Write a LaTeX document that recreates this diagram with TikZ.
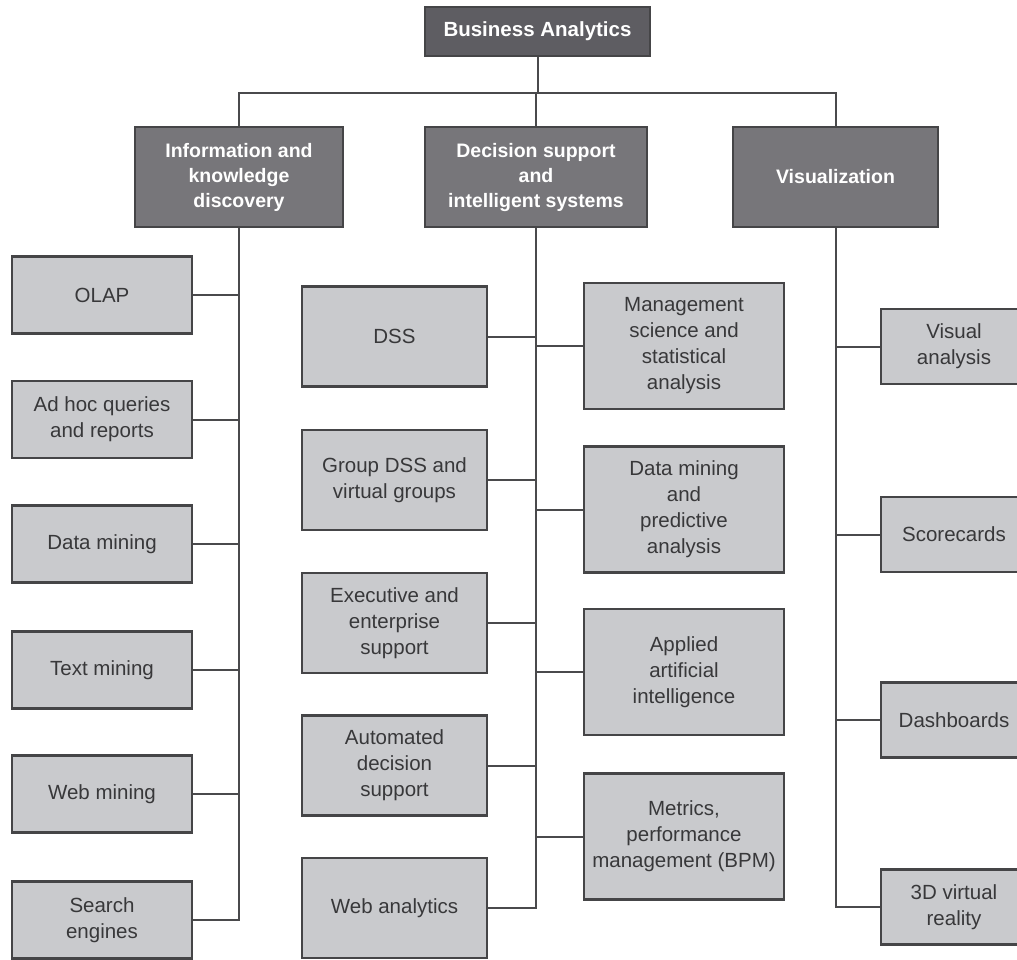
\documentclass[tikz,border=0pt]{standalone}
\usepackage{fontspec}
\setmainfont{Liberation Sans}
\definecolor{topfill}{HTML}{5E5D62}
\definecolor{headfill}{HTML}{77767A}
\definecolor{leaffill}{HTML}{C9CACD}
\definecolor{edgec}{HTML}{454547}
\definecolor{linec}{HTML}{4A4A4C}
\definecolor{textc}{HTML}{38383A}
\tikzset{
  conn/.style={draw=linec, line width=2pt},
  boxbase/.style={rectangle, draw=edgec, line width=2.4pt, inner sep=0pt, align=center},
  topbox/.style={boxbase, fill=topfill, text=white,
    font=\fontsize{20.5}{25}\selectfont\bfseries},
  headbox/.style={boxbase, fill=headfill, text=white,
    minimum height=100pt, font=\fontsize{19.5}{25}\selectfont\bfseries},
  leafbox/.style={boxbase, fill=leaffill, text=textc,
    font=\fontsize{20.5}{26}\selectfont},
  leftbox/.style={leafbox, minimum width=180pt, minimum height=77pt},
  midlbox/.style={leafbox, minimum width=185pt, minimum height=100pt},
  midrbox/.style={leafbox, minimum width=200pt, minimum height=126pt},
  rightbox/.style={leafbox, minimum width=146pt, minimum height=75pt},
}
\begin{document}
\begin{tikzpicture}[x=1pt, y=-1pt]
\useasboundingbox (0,0) rectangle (1017,959);
\clip (0,0) rectangle (1017,959);
\fill[white] (0,0) rectangle (1017,959);

% root and the three branches
\node[topbox, minimum width=225pt, minimum height=49pt] (ba) at (537.5,31.5) {Business Analytics};
\node[headbox, minimum width=208pt] (info) at (239,177) {Information and\\knowledge\\discovery};
\node[headbox, minimum width=222pt] (dec) at (536,177) {Decision support\\and\\intelligent systems};
\node[headbox, minimum width=205pt] (vis) at (835.5,177) {Visualization};

% left branch
\node[leftbox] (olap) at (102,295) {OLAP};
\node[leftbox] (adhoc) at (102,419.5) {Ad hoc queries\\and reports};
\node[leftbox] (dmin) at (102,544) {Data mining};
\node[leftbox] (tmin) at (102,670) {Text mining};
\node[leftbox] (wmin) at (102,794) {Web mining};
\node[leftbox] (seng) at (102,920) {Search\\engines};

% middle branch, left side
\node[midlbox] (dss) at (394.5,336.5) {DSS};
\node[midlbox] (gdss) at (394.5,480) {Group DSS and\\virtual groups};
\node[midlbox] (exec) at (394.5,623) {Executive and\\enterprise\\support};
\node[midlbox] (auto) at (394.5,765.5) {Automated\\decision\\support};
\node[midlbox] (weba) at (394.5,908) {Web analytics};

% middle branch, right side
\node[midrbox] (msa) at (684,346) {Management\\science and\\statistical\\analysis};
\node[midrbox] (dmp) at (684,509.5) {Data mining\\and\\predictive\\analysis};
\node[midrbox] (aai) at (684,672) {Applied\\artificial\\intelligence};
\node[midrbox] (met) at (684,836.5) {Metrics,\\performance\\management (BPM)};

% right branch
\node[rightbox] (vana) at (954,346.5) {Visual\\analysis};
\node[rightbox] (scor) at (954,534.5) {Scorecards};
\node[rightbox] (dash) at (954,720) {Dashboards};
\node[rightbox] (vr) at (954,907) {3D virtual\\reality};

% trunk connections
\coordinate (bar) at (536,93);
\draw[conn] (ba.south) -- (ba.south |- bar);
\draw[conn] (info.north) |- (bar) -| (vis.north);
\draw[conn] (bar) -- (dec.north);

% left trunk
\draw[conn] (info.south) -- (info.south |- seng.east) -- (seng.east);
\foreach \n in {olap,adhoc,dmin,tmin,wmin}
  \draw[conn] (\n.east) -- (info.south |- \n.east);

% middle trunk
\draw[conn] (dec.south) -- (dec.south |- weba.east) -- (weba.east);
\foreach \n in {dss,gdss,exec,auto}
  \draw[conn] (\n.east) -- (dec.south |- \n.east);
\foreach \n in {msa,dmp,aai,met}
  \draw[conn] (\n.west) -- (dec.south |- \n.west);

% right trunk
\draw[conn] (vis.south) -- (vis.south |- vr.west) -- (vr.west);
\foreach \n in {vana,scor,dash}
  \draw[conn] (\n.west) -- (vis.south |- \n.west);
\end{tikzpicture}
\end{document}
